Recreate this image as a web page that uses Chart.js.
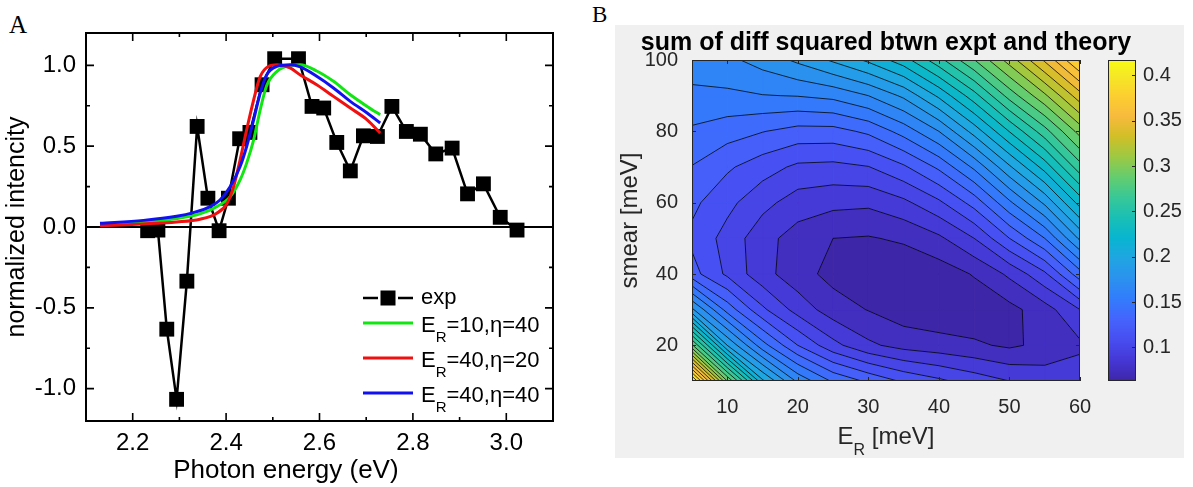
<!DOCTYPE html>
<html>
<head>
<meta charset="utf-8">
<script src="https://cdn.jsdelivr.net/npm/chart.js@4.4.1/dist/chart.umd.min.js"></script>
<style>
  body { margin: 0; background: #fff; width: 1193px; height: 487px; overflow: hidden; position: relative; }
  .letra { position: absolute; font-family: 'Liberation Serif', 'Times New Roman', serif; color: #000; line-height: 1; }
  #letraA { left: 9px; top: 12px; font-size: 25px; }
  #letraB { left: 592px; top: 3px; font-size: 23px; }
  #graficaA { position: absolute; left: 0; top: 0; }
  #fondoB { position: absolute; left: 615px; top: 25px; width: 569px; height: 433px; background: #f0f0f0; }
  #graficaB { position: absolute; left: 615px; top: 25px; }
</style>
</head>
<body>
<div id="letraA" class="letra">A</div>
<div id="letraB" class="letra">B</div>
<canvas id="graficaA" width="590" height="487"></canvas>
<div id="fondoB"></div>
<canvas id="graficaB" width="569" height="433"></canvas>

<script>
var FUENTE = "'Liberation Sans', Arial, Helvetica, sans-serif"

// ---------- Datos panel A (espectro) ----------
var expX = [2.232, 2.254, 2.273, 2.294, 2.316, 2.338, 2.361, 2.385, 2.405, 2.429, 2.451, 2.477, 2.504, 2.555, 2.584,
  2.609, 2.637, 2.666, 2.694, 2.724, 2.755, 2.786, 2.816, 2.849, 2.884, 2.917, 2.951, 2.987, 3.023]
var expY = [-0.023, -0.019, -0.632, -1.066, -0.335, 0.622, 0.178, -0.023, 0.178, 0.546, 0.585, 0.880, 1.041, 1.041, 0.746,
  0.736, 0.523, 0.347, 0.564, 0.560, 0.746, 0.591, 0.574, 0.452, 0.488, 0.205, 0.267, 0.060, -0.019]

var verdeX = [2.13, 2.223, 2.294, 2.344, 2.38, 2.409, 2.43, 2.444, 2.459, 2.473, 2.487, 2.509, 2.537, 2.559, 2.594, 2.63, 2.666, 2.702, 2.73]
var verdeY = [0.019, 0.031, 0.052, 0.081, 0.126, 0.188, 0.291, 0.395, 0.539, 0.725, 0.875, 0.963, 1.0, 1.004, 0.965, 0.901, 0.818, 0.746, 0.694]

var rojoX = [2.13, 2.223, 2.294, 2.344, 2.38, 2.402, 2.416, 2.43, 2.444, 2.459, 2.473, 2.491, 2.509, 2.537, 2.559, 2.594, 2.63, 2.666, 2.702, 2.73]
var rojoY = [0.008, 0.019, 0.031, 0.048, 0.085, 0.146, 0.25, 0.415, 0.601, 0.787, 0.93, 0.994, 1.004, 0.984, 0.94, 0.88, 0.808, 0.736, 0.663, 0.581]

var azulX = [2.13, 2.223, 2.294, 2.33, 2.366, 2.387, 2.409, 2.43, 2.444, 2.459, 2.473, 2.487, 2.509, 2.537, 2.559, 2.594, 2.63, 2.666, 2.702, 2.73]
var azulY = [0.023, 0.041, 0.066, 0.089, 0.126, 0.167, 0.25, 0.374, 0.498, 0.663, 0.829, 0.942, 0.994, 1.004, 0.99, 0.932, 0.86, 0.777, 0.705, 0.643]

var xTicksA = [2.2, 2.4, 2.6, 2.8, 3.0]
var xMenoresA = [2.3, 2.5, 2.7, 2.9]
var yTicksA = [-1.0, -0.5, 0.0, 0.5, 1.0]
var yMenoresA = [-0.75, -0.25, 0.25, 0.75]

// ---------- Datos panel B (mapa de contorno) ----------
var erMalla = [5, 10, 15, 20, 25, 30, 35, 40, 45, 50, 55, 60]      // E_R [meV]
var smearMalla = [10, 20, 30, 40, 50, 60, 70, 80, 90, 100]        // smear [meV]
var sumaDif = [ // una fila por cada smear (de 10 a 100), una columna por cada E_R
  [0.417, 0.300, 0.215, 0.172, 0.148, 0.135, 0.123, 0.115, 0.107, 0.100, 0.095, 0.095],
  [0.290, 0.200, 0.155, 0.125, 0.104, 0.090, 0.083, 0.080, 0.077, 0.073, 0.078, 0.085],
  [0.190, 0.145, 0.115, 0.095, 0.081, 0.0745, 0.068, 0.066, 0.066, 0.071, 0.082, 0.100],
  [0.130, 0.110, 0.092, 0.080, 0.071, 0.068, 0.065, 0.068, 0.076, 0.090, 0.110, 0.145],
  [0.122, 0.108, 0.092, 0.082, 0.075, 0.074, 0.077, 0.085, 0.100, 0.125, 0.150, 0.190],
  [0.128, 0.116, 0.104, 0.094, 0.091, 0.090, 0.097, 0.110, 0.130, 0.160, 0.190, 0.230],
  [0.137, 0.127, 0.118, 0.110, 0.109, 0.112, 0.123, 0.140, 0.165, 0.198, 0.230, 0.270],
  [0.148, 0.143, 0.138, 0.133, 0.133, 0.140, 0.155, 0.175, 0.205, 0.238, 0.270, 0.305],
  [0.160, 0.160, 0.162, 0.163, 0.166, 0.175, 0.190, 0.215, 0.245, 0.280, 0.310, 0.345],
  [0.168, 0.172, 0.180, 0.190, 0.202, 0.215, 0.232, 0.258, 0.287, 0.318, 0.352, 0.390]
]
var niveles = [0.075, 0.0875, 0.1, 0.1125, 0.125, 0.1375, 0.15, 0.1625, 0.175, 0.1875, 0.2, 0.2125, 0.225, 0.2375,
  0.25, 0.2625, 0.275, 0.2875, 0.3, 0.3125, 0.325, 0.3375, 0.35, 0.3625, 0.375, 0.3875, 0.4]
var xTicksB = [10, 20, 30, 40, 50, 60]
var yTicksB = [20, 40, 60, 80, 100]
var cbTicks = [0.1, 0.15, 0.2, 0.25, 0.3, 0.35, 0.4]
var cbMin = 0.063
var cbMax = 0.417

// mapa de colores parula (muestras del original de 64 colores)
var parula = ['#3e26a8', '#4537d5', '#484df0', '#4563fd', '#327cfc', '#2b91ef', '#20a5e3', '#08b5d0', '#19bfb5',
  '#37c897', '#64cd6f', '#9dc943', '#d1bf27', '#f8ba3d', '#fccf30', '#f5e924', '#f9fb15']

function hexRgb(h) {
  return [parseInt(h.substr(1, 2), 16), parseInt(h.substr(3, 2), 16), parseInt(h.substr(5, 2), 16)]
}

function colorDe(v) { //Devuelve el color de parula para un valor
  var t = Math.max(0, Math.min(1, (v - cbMin) / (cbMax - cbMin)))
  var pos = parula.map(function (c, k) { return k < parula.length - 1 ? k * 4 / 63 : 1 })
  var k = 0
  while (k < pos.length - 2 && t > pos[k + 1]) k++
  var f = (t - pos[k]) / (pos[k + 1] - pos[k])
  var a = hexRgb(parula[k]), b = hexRgb(parula[k + 1])
  return 'rgb(' + [0, 1, 2].map(function (i) { return Math.round(a[i] + (b[i] - a[i]) * f) }).join(',') + ')'
}

function puntos(xs, ys) {
  return xs.map(function (x, i) { return { x: x, y: ys[i] } })
}

function textoSub(ctx, texto, x, y, tam, alin) { //Escribe texto con subindices del tipo E_R
  var partes = texto.split(/_(\w)/)
  var fuentes = partes.map(function (p, n) { return (n % 2 ? Math.round(tam * 0.66) : tam) + 'px ' + FUENTE })
  var ancho = 0
  partes.forEach(function (p, n) { ctx.font = fuentes[n]; ancho += ctx.measureText(p).width })
  var cx = alin === 'center' ? x - ancho / 2 : x
  ctx.textAlign = 'left'
  ctx.textBaseline = 'alphabetic'
  partes.forEach(function (p, n) {
    ctx.font = fuentes[n]
    ctx.fillText(p, cx, n % 2 ? y + tam * 0.45 : y)
    cx += ctx.measureText(p).width
  })
}

function sinRelleno(s) { //quita el hueco extra que chart.js deja arriba y abajo en ejes verticales
  s.paddingTop = 0
  s.paddingBottom = 0
}

// ---------- Panel A ----------
var marcoA = {
  id: 'marcoA',
  beforeDatasetsDraw: function (chart) { //linea del cero
    var ctx = chart.ctx, a = chart.chartArea
    var y0 = chart.scales.y.getPixelForValue(0)
    ctx.save()
    ctx.strokeStyle = '#000'
    ctx.lineWidth = 2
    ctx.beginPath()
    ctx.moveTo(a.left, y0)
    ctx.lineTo(a.right, y0)
    ctx.stroke()
    ctx.restore()
  },
  afterDraw: function (chart) {
    var ctx = chart.ctx, a = chart.chartArea, sx = chart.scales.x, sy = chart.scales.y
    ctx.save()
    ctx.strokeStyle = '#000'
    ctx.lineWidth = 2
    ctx.strokeRect(a.left, a.top, a.right - a.left, a.bottom - a.top)
    ctx.lineWidth = 1.6
    ctx.beginPath()
    function marcasX(vals, largo) {
      vals.forEach(function (v) {
        var px = sx.getPixelForValue(v)
        ctx.moveTo(px, a.bottom); ctx.lineTo(px, a.bottom - largo)
        ctx.moveTo(px, a.top); ctx.lineTo(px, a.top + largo)
      })
    }
    function marcasY(vals, largo) {
      vals.forEach(function (v) {
        var py = sy.getPixelForValue(v)
        ctx.moveTo(a.left, py); ctx.lineTo(a.left + largo, py)
        ctx.moveTo(a.right, py); ctx.lineTo(a.right - largo, py)
      })
    }
    marcasX(xTicksA, 8); marcasX(xMenoresA, 4)
    marcasY(yTicksA, 8); marcasY(yMenoresA, 4)
    ctx.stroke()

    // titulo del eje x
    ctx.fillStyle = '#000'
    ctx.font = '26px ' + FUENTE
    ctx.textAlign = 'center'
    ctx.textBaseline = 'alphabetic'
    ctx.fillText('Photon energy (eV)', a.left + (a.right - a.left) * 0.428, a.bottom + 57)

    // leyenda
    var filas = [265, 290, 325, 360]
    chart.data.datasets.forEach(function (ds, n) {
      var yy = a.top + filas[n]
      var x0 = a.right - 190, x1 = a.right - 140, xc = (x0 + x1) / 2
      ctx.strokeStyle = ds.borderColor
      ctx.lineWidth = ds.borderWidth
      ctx.beginPath()
      if (ds.pointRadius > 0) {
        ctx.moveTo(x0, yy); ctx.lineTo(xc - 10, yy)
        ctx.moveTo(xc + 10, yy); ctx.lineTo(x1, yy)
        ctx.stroke()
        ctx.fillStyle = ds.backgroundColor
        ctx.fillRect(xc - 7.5, yy - 7.5, 15, 15)
      } else {
        ctx.moveTo(x0, yy); ctx.lineTo(x1, yy)
        ctx.stroke()
      }
      ctx.fillStyle = '#000'
      textoSub(ctx, ds.label, a.right - 132, yy + (ds.label.indexOf('_') >= 0 ? 9 : 6), 22, 'left')
    })
    ctx.restore()
  }
}

new Chart(document.getElementById('graficaA'), {
  type: 'scatter',
  data: {
    datasets: [
      { label: 'exp', data: puntos(expX, expY), showLine: true, borderColor: '#000', backgroundColor: '#000',
        borderWidth: 2.5, pointStyle: 'rect', pointRadius: 10.5, pointBorderWidth: 0, order: 4 },
      { label: 'E_R=10,η=40', data: puntos(verdeX, verdeY), showLine: true, borderColor: '#12e612',
        borderWidth: 3, pointRadius: 0, cubicInterpolationMode: 'monotone', order: 3 },
      { label: 'E_R=40,η=20', data: puntos(rojoX, rojoY), showLine: true, borderColor: '#f01010',
        borderWidth: 3, pointRadius: 0, cubicInterpolationMode: 'monotone', order: 2 },
      { label: 'E_R=40,η=40', data: puntos(azulX, azulY), showLine: true, borderColor: '#1010f0',
        borderWidth: 3, pointRadius: 0, cubicInterpolationMode: 'monotone', order: 1 }
    ]
  },
  options: {
    responsive: false,
    animation: false,
    layout: { padding: { top: 33, right: 37, left: 0, bottom: 0 } },
    plugins: { legend: { display: false }, tooltip: { enabled: false } },
    scales: {
      x: {
        type: 'linear', min: 2.1, max: 3.1,
        afterBuildTicks: function (s) { s.ticks = xTicksA.map(function (v) { return { value: v } }) },
        afterFit: function (s) { s.height = 66 },
        grid: { display: false, drawTicks: false }, border: { display: false },
        ticks: { font: { family: FUENTE, size: 24 }, color: '#000', padding: 8, maxRotation: 0, autoSkip: false,
          callback: function (v) { return v.toFixed(1) } }
      },
      y: {
        min: -1.2, max: 1.2,
        afterBuildTicks: function (s) { s.ticks = yTicksA.map(function (v) { return { value: v } }) },
        afterFit: function (s) { s.width = 86; sinRelleno(s) },
        grid: { display: false, drawTicks: false }, border: { display: false },
        ticks: { font: { family: FUENTE, size: 24 }, color: '#000', padding: 10, autoSkip: false,
          callback: function (v) { return v.toFixed(1) } },
        title: { display: true, text: 'normalized intencity', font: { family: FUENTE, size: 25 }, color: '#000',
          padding: { top: 2, bottom: 0 } }
      }
    }
  },
  plugins: [marcoA]
})

// ---------- Panel B ----------
function recortar(poli, L, signo) { //Recorta el poligono y se queda con signo*(z-L) >= 0
  if (!isFinite(L) || poli.length === 0) return poli
  var out = []
  for (var n = 0; n < poli.length; n++) {
    var P = poli[n], Q = poli[(n + 1) % poli.length]
    var dp = signo * (P.z - L) >= 0, dq = signo * (Q.z - L) >= 0
    if (dp) out.push(P)
    if (dp !== dq) {
      var t = (L - P.z) / (Q.z - P.z)
      out.push({ e: P.e + t * (Q.e - P.e), s: P.s + t * (Q.s - P.s), z: L })
    }
  }
  return out
}

function celda(i, j) {
  return [
    { e: erMalla[i], s: smearMalla[j], z: sumaDif[j][i] },
    { e: erMalla[i + 1], s: smearMalla[j], z: sumaDif[j][i + 1] },
    { e: erMalla[i + 1], s: smearMalla[j + 1], z: sumaDif[j + 1][i + 1] },
    { e: erMalla[i], s: smearMalla[j + 1], z: sumaDif[j + 1][i] }
  ]
}

var contornoB = {
  id: 'contornoB',
  beforeDatasetsDraw: function (chart) {
    var ctx = chart.ctx, a = chart.chartArea, sx = chart.scales.x, sy = chart.scales.y
    var limites = [-Infinity].concat(niveles, [Infinity])
    function px(p) { return sx.getPixelForValue(p.e) }
    function py(p) { return sy.getPixelForValue(p.s) }
    ctx.save()
    ctx.beginPath()
    ctx.rect(a.left, a.top, a.right - a.left, a.bottom - a.top)
    ctx.clip()
    // relleno por bandas
    for (var j = 0; j < smearMalla.length - 1; j++) {
      for (var i = 0; i < erMalla.length - 1; i++) {
        var c = celda(i, j)
        for (var k = 0; k + 1 < limites.length; k++) {
          var poli = recortar(recortar(c, limites[k], 1), limites[k + 1], -1)
          if (poli.length < 3) continue
          var col = colorDe(k === 0 ? cbMin : limites[k])
          ctx.fillStyle = col
          ctx.strokeStyle = col
          ctx.lineWidth = 1
          ctx.beginPath()
          poli.forEach(function (p, n) { n ? ctx.lineTo(px(p), py(p)) : ctx.moveTo(px(p), py(p)) })
          ctx.closePath()
          ctx.fill()
          ctx.stroke()
        }
      }
    }
    // lineas de contorno
    ctx.strokeStyle = 'rgba(0,0,0,0.85)'
    ctx.lineWidth = 0.9
    ctx.beginPath()
    function seg(p, q) { ctx.moveTo(px(p), py(p)); ctx.lineTo(px(q), py(q)) }
    niveles.forEach(function (L) {
      for (var j = 0; j < smearMalla.length - 1; j++) {
        for (var i = 0; i < erMalla.length - 1; i++) {
          var c = celda(i, j), pts = []
          for (var n = 0; n < 4; n++) {
            var P = c[n], Q = c[(n + 1) % 4]
            if ((P.z < L) !== (Q.z < L)) {
              var t = (L - P.z) / (Q.z - P.z)
              pts.push({ e: P.e + t * (Q.e - P.e), s: P.s + t * (Q.s - P.s) })
            }
          }
          if (pts.length === 2) seg(pts[0], pts[1])
          else if (pts.length === 4) {
            var centro = (c[0].z + c[1].z + c[2].z + c[3].z) / 4
            if ((centro < L) === (c[0].z < L)) { seg(pts[0], pts[1]); seg(pts[2], pts[3]) }
            else { seg(pts[3], pts[0]); seg(pts[1], pts[2]) }
          }
        }
      }
    })
    ctx.stroke()
    ctx.restore()
  },
  afterDraw: function (chart) {
    var ctx = chart.ctx, a = chart.chartArea, sx = chart.scales.x, sy = chart.scales.y, cb = chart.scales.cb
    ctx.save()
    // marco y marcas del mapa
    ctx.strokeStyle = '#262626'
    ctx.lineWidth = 1
    ctx.strokeRect(a.left + 0.5, a.top + 0.5, a.right - a.left - 1, a.bottom - a.top - 1)
    ctx.beginPath()
    xTicksB.forEach(function (v) {
      var p = Math.round(sx.getPixelForValue(v)) + 0.5
      ctx.moveTo(p, a.bottom); ctx.lineTo(p, a.bottom - 4)
      ctx.moveTo(p, a.top); ctx.lineTo(p, a.top + 4)
    })
    yTicksB.forEach(function (v) {
      var p = Math.round(sy.getPixelForValue(v)) + 0.5
      ctx.moveTo(a.left, p); ctx.lineTo(a.left + 4, p)
      ctx.moveTo(a.right, p); ctx.lineTo(a.right - 4, p)
    })
    ctx.stroke()

    // barra de colores
    var bx0 = a.right + 28, bx1 = a.right + 56
    for (var yy = Math.floor(a.top); yy < a.bottom; yy++) {
      ctx.fillStyle = colorDe(cb.getValueForPixel(yy + 0.5))
      ctx.fillRect(bx0, yy, bx1 - bx0, 1)
    }
    ctx.strokeStyle = '#262626'
    ctx.strokeRect(bx0 + 0.5, a.top + 0.5, bx1 - bx0 - 1, a.bottom - a.top - 1)
    ctx.beginPath()
    cbTicks.forEach(function (v) {
      var p = Math.round(cb.getPixelForValue(v)) + 0.5
      ctx.moveTo(bx1, p); ctx.lineTo(bx1 - 4, p)
    })
    ctx.stroke()

    // titulo centrado sobre el mapa
    ctx.fillStyle = '#000'
    ctx.font = 'bold 25px ' + FUENTE
    ctx.textAlign = 'center'
    ctx.textBaseline = 'alphabetic'
    ctx.fillText('sum of diff squared btwn expt and theory', (a.left + a.right) / 2, a.top - 10)

    // titulo del eje x con subindice
    ctx.fillStyle = '#262626'
    textoSub(ctx, 'E_R [meV]', (a.left + a.right) / 2, a.bottom + 63, 24, 'center')
    ctx.restore()
  }
}

new Chart(document.getElementById('graficaB'), {
  type: 'scatter',
  data: { datasets: [] },
  options: {
    responsive: false,
    animation: false,
    layout: { padding: { top: 35, left: 0, right: 0, bottom: 0 } },
    plugins: { legend: { display: false }, tooltip: { enabled: false } },
    scales: {
      x: {
        type: 'linear', min: 5, max: 60,
        afterBuildTicks: function (s) { s.ticks = xTicksB.map(function (v) { return { value: v } }) },
        afterFit: function (s) { s.height = 77 },
        grid: { display: false, drawTicks: false }, border: { display: false },
        ticks: { font: { family: FUENTE, size: 20 }, color: '#262626', padding: 14, maxRotation: 0, autoSkip: false }
      },
      y: {
        type: 'linear', min: 10, max: 100,
        afterBuildTicks: function (s) { s.ticks = yTicksB.map(function (v) { return { value: v } }) },
        afterFit: function (s) { s.width = 77; sinRelleno(s) },
        grid: { display: false, drawTicks: false }, border: { display: false },
        ticks: { font: { family: FUENTE, size: 20 }, color: '#262626', padding: 14, autoSkip: false },
        title: { display: true, text: 'smear [meV]', font: { family: FUENTE, size: 24 }, color: '#262626',
          padding: { top: 1, bottom: 0 } }
      },
      cb: {
        type: 'linear', position: 'right', min: cbMin, max: cbMax,
        afterBuildTicks: function (s) { s.ticks = cbTicks.map(function (v) { return { value: v } }) },
        afterFit: function (s) { s.width = 104; sinRelleno(s) },
        grid: { display: false, drawTicks: false }, border: { display: false },
        ticks: { font: { family: FUENTE, size: 20 }, color: '#262626', padding: 63, autoSkip: false,
          callback: function (v) { return String(v) } }
      }
    }
  },
  plugins: [contornoB]
})
</script>
</body>
</html>
